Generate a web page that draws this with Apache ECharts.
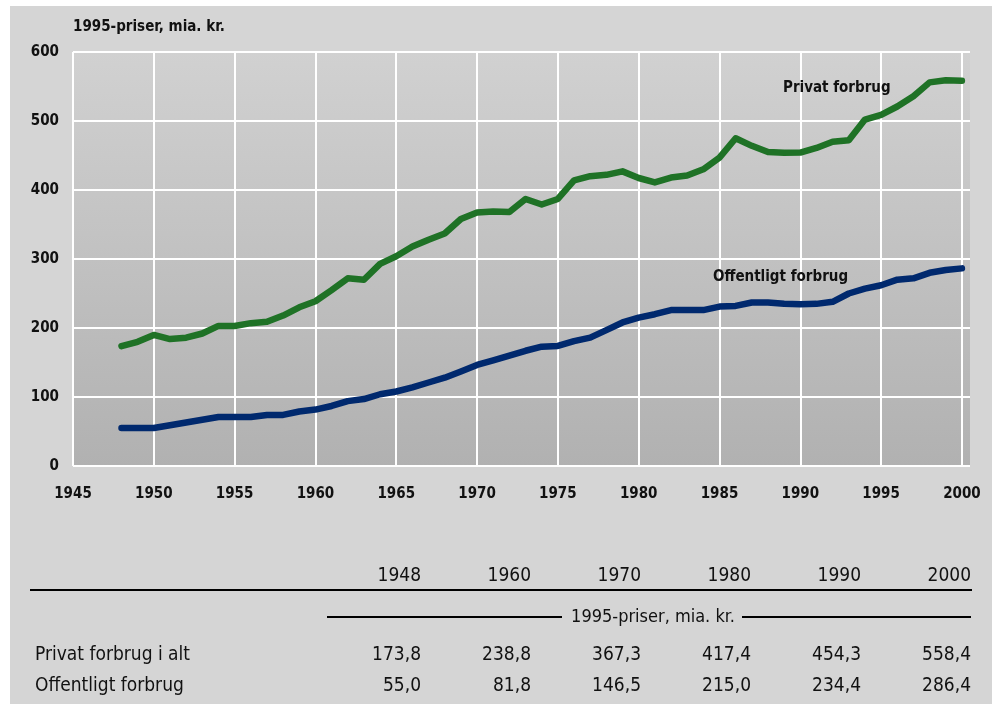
<!DOCTYPE html>
<html>
<head>
<meta charset="utf-8">
<script src="https://cdn.jsdelivr.net/npm/echarts@6/dist/echarts.min.js"></script>
<style>
  html, body { margin: 0; padding: 0; background: #fff; }
  #main { width: 999px; height: 704px; }
</style>
</head>
<body>
<div id="main"></div>
<script>
// aar 1948-2000
var years = [];
for (var y = 1948; y <= 2000; y++) years.push(y);

// Privat forbrug, 1995-priser mia. kr.
var privat = [173.8, 180, 190, 184, 186, 192, 203, 203, 207, 209, 218, 230, 238.8,
  255, 272, 270, 293, 304, 318, 328, 337, 358, 367.3,
  369, 368, 387, 379, 387, 414, 420, 422, 427, 417.4,
  411, 418, 421, 430, 447, 475, 464, 455, 454, 454.3,
  461, 470, 472, 502, 509, 521, 536, 556, 559, 558.4];

// Offentligt forbrug
var offentlig = [55.0, 55, 55, 59, 63, 67, 71, 71, 71, 74, 74, 79, 81.8,
  87, 94, 97, 104, 108, 114, 121, 128, 137, 146.5,
  153, 160, 167, 173, 174, 181, 186, 197, 208, 215.0,
  220, 226, 226, 226, 231, 232, 237, 237, 235, 234.4,
  235, 238, 250, 257, 262, 270, 272, 280, 284, 286.4];

// tabel
var tableYears = [1948, 1960, 1970, 1980, 1990, 2000];
var tableRows = ['Privat forbrug i alt', 'Offentligt forbrug'];
var unitText = '1995-priser, mia. kr.';

var condensed = '"DejaVu Sans Condensed", "DejaVu Sans", sans-serif';

function fmt(v) {
  return v.toFixed(1).replace('.', ',');
}

// hvide gitterlinjer 1945..2000, ingen linje ved kanten (2000,5)
var xLineColors = [];
for (var k = 0; k < 12; k++) xLineColors.push('#fff');
xLineColors.push('rgba(0,0,0,0)');

var myChart = echarts.init(document.getElementById('main'));

var graphic = [
  { type: 'rect', z: -100, shape: { x: 10, y: 6, width: 982, height: 698 }, style: { fill: '#d5d5d5' } },
  { type: 'text', x: 73, y: 27, style: { text: unitText, font: 'bold 15px ' + condensed, fill: '#111', verticalAlign: 'middle', textVerticalAlign: 'middle' } },
  { type: 'text', x: 783, y: 88, z: 10, style: { text: 'Privat forbrug', font: 'bold 15px ' + condensed, fill: '#111', verticalAlign: 'middle', textVerticalAlign: 'middle' } },
  { type: 'text', x: 713, y: 277, z: 10, style: { text: 'Offentligt forbrug', font: 'bold 15px ' + condensed, fill: '#111', verticalAlign: 'middle', textVerticalAlign: 'middle' } },
  // tabel linjer
  { type: 'line', shape: { x1: 30, y1: 590, x2: 972, y2: 590 }, style: { stroke: '#000', lineWidth: 2 } },
  { type: 'line', shape: { x1: 327, y1: 617, x2: 562, y2: 617 }, style: { stroke: '#000', lineWidth: 2 } },
  { type: 'line', shape: { x1: 742, y1: 617, x2: 971, y2: 617 }, style: { stroke: '#000', lineWidth: 2 } },
  { type: 'text', x: 653, y: 617, style: { text: unitText, font: '18px ' + condensed, fill: '#111', align: 'center', textAlign: 'center', verticalAlign: 'middle', textVerticalAlign: 'middle' } }
];

var tableFont = '19px ' + condensed;
var rowY = [655, 686];
var series = [privat, offentlig];
for (var i = 0; i < tableYears.length; i++) {
  var xr = 421 + i * 110;
  graphic.push({ type: 'text', x: xr, y: 576, style: { text: String(tableYears[i]), font: tableFont, fill: '#111', align: 'right', textAlign: 'right', verticalAlign: 'middle', textVerticalAlign: 'middle' } });
  var idx = years.indexOf(tableYears[i]);
  for (var r = 0; r < 2; r++) {
    graphic.push({ type: 'text', x: xr, y: rowY[r], style: { text: fmt(series[r][idx]), font: tableFont, fill: '#111', align: 'right', textAlign: 'right', verticalAlign: 'middle', textVerticalAlign: 'middle' } });
  }
}
for (var r = 0; r < tableRows.length; r++) {
  graphic.push({ type: 'text', x: 35, y: rowY[r], style: { text: tableRows[r], font: tableFont, fill: '#111', verticalAlign: 'middle', textVerticalAlign: 'middle' } });
}

var option = {
  animation: false,
  backgroundColor: '#fff',
  graphic: graphic,
  grid: {
    left: 73, right: 29, top: 52, bottom: 238,
    show: true,
    borderWidth: 0,
    backgroundColor: new echarts.graphic.LinearGradient(0, 0, 0, 1, [
      { offset: 0, color: '#d1d1d1' },
      { offset: 1, color: '#b1b1b1' }
    ])
  },
  xAxis: {
    type: 'value',
    min: 1945,
    max: 2000.5,
    interval: 5,
    axisLine: { show: false },
    axisTick: { show: false },
    splitLine: { show: true, showMaxLine: false, lineStyle: { color: xLineColors, width: 2 } },
    axisLabel: {
      showMaxLabel: false,
      margin: 21,
      color: '#111',
      fontFamily: condensed,
      fontWeight: 'bold',
      fontSize: 15,
      formatter: function (v) { return v % 5 === 0 ? String(v) : ''; }
    }
  },
  yAxis: {
    type: 'value',
    min: 0,
    max: 600,
    interval: 100,
    axisLine: { show: false },
    axisTick: { show: false },
    splitLine: { show: true, lineStyle: { color: '#fff', width: 2 } },
    axisLabel: {
      margin: 14,
      color: '#111',
      fontFamily: condensed,
      fontWeight: 'bold',
      fontSize: 15
    }
  },
  series: [
    {
      name: 'Privat forbrug',
      type: 'line',
      showSymbol: false,
      data: years.map(function (y, i) { return [y, privat[i]]; }),
      lineStyle: { color: '#1f7226', width: 6.5, cap: 'round', join: 'round' }
    },
    {
      name: 'Offentligt forbrug',
      type: 'line',
      showSymbol: false,
      data: years.map(function (y, i) { return [y, offentlig[i]]; }),
      lineStyle: { color: '#00296e', width: 6.5, cap: 'round', join: 'round' }
    }
  ]
};
myChart.setOption(option);
</script>
</body>
</html>
